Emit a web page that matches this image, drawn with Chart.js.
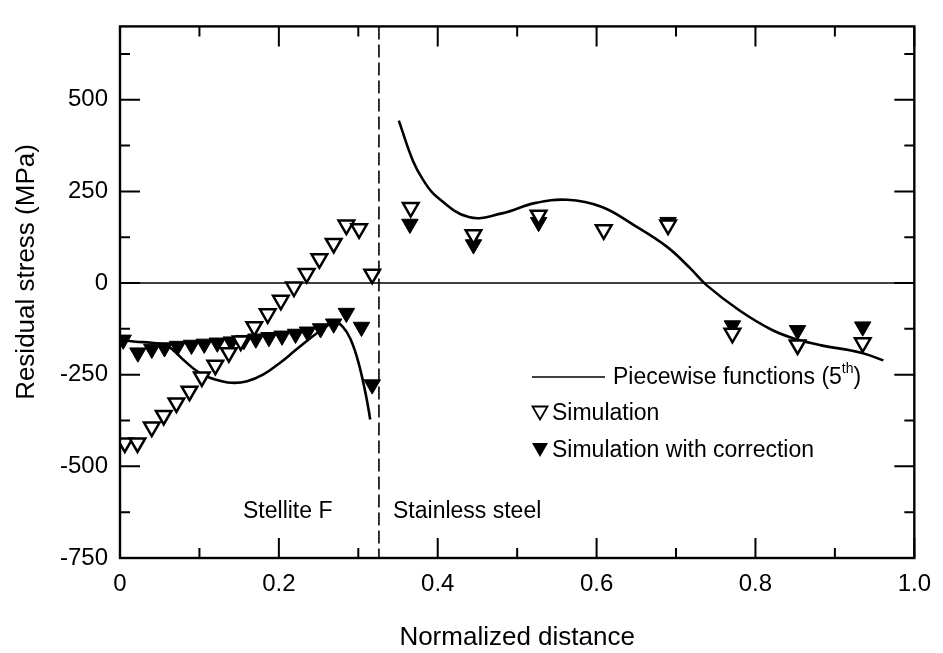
<!DOCTYPE html>
<html>
<head>
<meta charset="utf-8">
<script src="https://cdn.jsdelivr.net/npm/chart.js@4/dist/chart.umd.min.js"></script>
<style>
  html, body { margin: 0; padding: 0; background: #fff; }
  #wrap { width: 943px; height: 653px; }
</style>
</head>
<body>
<div id="wrap"><canvas id="stress-chart" width="943" height="653"></canvas></div>
<script>
// values
const simX = [0.006, 0.022, 0.04, 0.055, 0.071, 0.0875, 0.103, 0.12, 0.137, 0.152, 0.169, 0.186, 0.2025, 0.219, 0.235, 0.251, 0.269, 0.285, 0.301, 0.3175,
              0.366, 0.445, 0.527, 0.609, 0.69, 0.771, 0.853, 0.935];
const simY = [-436, -436, -393, -361, -327, -295, -256, -224, -190, -158, -119, -84, -47, -11, 26, 66, 108, 158, 148, 24,
              206, 132, 185, 145, 158, -137, -169, -163];

const corrX = [0.004, 0.0225, 0.04, 0.056, 0.0725, 0.09, 0.106, 0.1225, 0.14, 0.156, 0.171, 0.1875, 0.204, 0.221, 0.236, 0.2525, 0.269, 0.285, 0.304, 0.3175,
               0.365, 0.445, 0.527, 0.609, 0.69, 0.771, 0.853, 0.935];
const corrY = [-155, -190, -180, -176, -172, -169, -166, -163, -160, -156, -152, -148, -144, -139, -133, -124, -111, -82, -120, -277,
               161, 105, 166, 145, 166, -116, -129, -119];

// piecewise 5th order fit, stellite part and stainless part
const fitStelliteX = [0, 0.02, 0.04, 0.06, 0.08, 0.1, 0.12, 0.14, 0.16, 0.18, 0.2, 0.22, 0.24, 0.26, 0.27, 0.28, 0.29, 0.30, 0.31, 0.315];
const fitStelliteY = [-155, -160, -163, -172, -210, -245, -263, -272, -268, -250, -220, -185, -150, -118, -106, -118, -152, -215, -310, -372];
const fitSteelX = [0.351, 0.369, 0.382, 0.398, 0.439, 0.481, 0.522, 0.563, 0.606, 0.647, 0.688, 0.718, 0.738, 0.78, 0.821, 0.854, 0.883, 0.933, 0.961];
const fitSteelY = [443, 332, 280, 237, 180, 190, 218, 227, 208, 158, 100, 40, -5, -75, -128, -155, -170, -190, -211];

const xTicks = [0, 0.2, 0.4, 0.6, 0.8, 1.0];
const yTicks = [-750, -500, -250, 0, 250, 500];
const X_MIN = 0, X_MAX = 1.0, Y_MIN = -750, Y_MAX = 700;
const BOUNDARY_X = 0.326;

function pts(xs, ys) {
    return xs.map((x, i) => ({ x: x, y: ys[i] }));
}

const FONT = "'Liberation Sans', Arial, Helvetica, sans-serif";

function downTriangle(ctx, cx, cy, w, filled) {
    const h = w * 0.87;
    ctx.beginPath();
    ctx.moveTo(cx - w / 2, cy - h / 2);
    ctx.lineTo(cx + w / 2, cy - h / 2);
    ctx.lineTo(cx, cy + h / 2);
    ctx.closePath();
    if (filled) {
        ctx.fillStyle = '#000';
        ctx.fill();
    } else {
        ctx.fillStyle = '#fff';
        ctx.fill();
        ctx.lineWidth = 1.8;
        ctx.strokeStyle = '#000';
        ctx.stroke();
    }
}

// frame, inward ticks, zero line, boundary line, labels, legend
const framePlugin = {
    id: 'frame',
    beforeDatasetsDraw(chart) {
        const ctx = chart.ctx;
        const a = chart.chartArea;
        const xs = chart.scales.x, ys = chart.scales.y;
        ctx.save();
        ctx.strokeStyle = '#000';

        ctx.lineWidth = 1.5;
        ctx.beginPath();
        ctx.moveTo(a.left, ys.getPixelForValue(0));
        ctx.lineTo(a.right, ys.getPixelForValue(0));
        ctx.stroke();

        ctx.lineWidth = 1.6;
        ctx.setLineDash([13, 5]);
        ctx.beginPath();
        ctx.moveTo(xs.getPixelForValue(BOUNDARY_X), a.top);
        ctx.lineTo(xs.getPixelForValue(BOUNDARY_X), a.bottom);
        ctx.stroke();
        ctx.setLineDash([]);
        ctx.restore();
    },
    afterDraw(chart) {
        const ctx = chart.ctx;
        const a = chart.chartArea;
        const xs = chart.scales.x, ys = chart.scales.y;
        ctx.save();
        ctx.strokeStyle = '#000';
        ctx.lineWidth = 2.4;
        ctx.strokeRect(a.left, a.top, a.right - a.left, a.bottom - a.top);

        ctx.lineWidth = 2;
        for (let v = 0; v <= 10; v++) {
            const val = v / 10;
            const len = v % 2 === 0 ? 20 : 10;
            const px = xs.getPixelForValue(val);
            ctx.beginPath();
            ctx.moveTo(px, a.bottom); ctx.lineTo(px, a.bottom - len);
            ctx.moveTo(px, a.top); ctx.lineTo(px, a.top + len);
            ctx.stroke();
        }
        for (let val = -750; val <= 625; val += 125) {
            const len = val % 250 === 0 ? 20 : 10;
            const py = ys.getPixelForValue(val);
            ctx.beginPath();
            ctx.moveTo(a.left, py); ctx.lineTo(a.left + len, py);
            ctx.moveTo(a.right, py); ctx.lineTo(a.right - len, py);
            ctx.stroke();
        }

        ctx.fillStyle = '#000';

        // y axis title
        ctx.save();
        ctx.translate(27, 272);
        ctx.rotate(-Math.PI / 2);
        ctx.textAlign = 'center';
        ctx.textBaseline = 'middle';
        ctx.font = '26px ' + FONT;
        ctx.fillText('Residual stress (MPa)', 0, 0);
        ctx.restore();

        // region labels
        ctx.textBaseline = 'middle';
        ctx.textAlign = 'left';
        ctx.font = '23px ' + FONT;
        ctx.fillText('Stellite F', 243, 512);
        ctx.fillText('Stainless steel', 393, 512);

        // legend
        ctx.lineWidth = 1.5;
        ctx.beginPath();
        ctx.moveTo(532, 377); ctx.lineTo(605, 377);
        ctx.stroke();
        ctx.font = '23px ' + FONT;
        const t1 = 'Piecewise functions (5';
        ctx.fillText(t1, 613, 378);
        let w = ctx.measureText(t1).width;
        ctx.font = '14px ' + FONT;
        ctx.fillText('th', 613 + w, 369);
        const w2 = ctx.measureText('th').width;
        ctx.font = '23px ' + FONT;
        ctx.fillText(')', 613 + w + w2, 378);

        downTriangle(ctx, 540, 413, 15, false);
        ctx.fillStyle = '#000';
        ctx.fillText('Simulation', 552, 414);
        downTriangle(ctx, 540, 450, 16, true);
        ctx.fillStyle = '#000';
        ctx.fillText('Simulation with correction', 552, 451);
        ctx.restore();
    }
};

function setupChart() {
    const canvas = document.getElementById('stress-chart');
    const ctx = canvas.getContext('2d');
    Chart.defaults.font.family = FONT;
    Chart.defaults.color = '#000';

    const config = {
        type: 'scatter',
        data: {
            datasets: [{
                label: 'Simulation',
                data: pts(simX, simY),
                pointStyle: 'triangle',
                rotation: 180,
                pointRadius: 9,
                backgroundColor: '#fff',
                borderColor: '#000',
                borderWidth: 2.5
            }, {
                label: 'Simulation with correction',
                data: pts(corrX, corrY),
                pointStyle: 'triangle',
                rotation: 180,
                pointRadius: 9.5,
                backgroundColor: '#000',
                borderColor: '#000',
                borderWidth: 1
            }, {
                label: 'Piecewise functions (5th)',
                data: pts(fitStelliteX, fitStelliteY),
                showLine: true,
                pointRadius: 0,
                borderColor: '#000',
                borderWidth: 2.6,
                tension: 0.4
            }, {
                label: 'Piecewise functions (5th) steel',
                data: pts(fitSteelX, fitSteelY),
                showLine: true,
                pointRadius: 0,
                borderColor: '#000',
                borderWidth: 2.6,
                tension: 0.4
            }]
        },
        options: {
            responsive: false,
            animation: false,
            events: [],
            layout: { padding: { top: 9, right: 19, left: 0, bottom: 0 } },
            plugins: { legend: { display: false }, tooltip: { enabled: false } },
            scales: {
                x: {
                    type: 'linear',
                    min: X_MIN, max: X_MAX,
                    afterBuildTicks: s => { s.ticks = xTicks.map(v => ({ value: v })); },
                    afterFit: s => { s.height = 95; },
                    grid: { display: false, drawTicks: false },
                    border: { display: false },
                    ticks: {
                        padding: 12,
                        font: { size: 24 },
                        maxRotation: 0,
                        callback: v => (v === 0 ? '0' : v.toFixed(1))
                    },
                    title: {
                        display: true,
                        text: 'Normalized distance',
                        font: { size: 26 },
                        padding: { top: 0, bottom: 0 }
                    }
                },
                y: {
                    type: 'linear',
                    min: Y_MIN, max: Y_MAX,
                    afterBuildTicks: s => { s.ticks = yTicks.map(v => ({ value: v })); },
                    afterFit: s => { s.width = 120; },
                    grid: { display: false, drawTicks: false },
                    border: { display: false },
                    ticks: {
                        padding: 12,
                        font: { size: 24 },
                        callback: v => String(v)
                    },
                    title: { display: false }
                }
            }
        },
        plugins: [framePlugin]
    };

    const stressChart = new Chart(ctx, config);
}

setupChart();
</script>
</body>
</html>
